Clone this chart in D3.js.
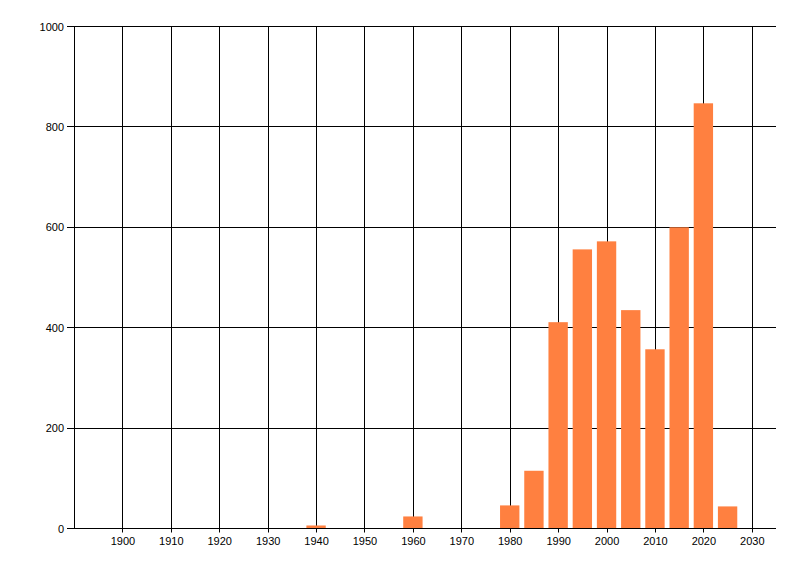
<!DOCTYPE html>
<html>
<head>
<meta charset="utf-8">
<script src="https://cdn.jsdelivr.net/npm/d3@7"></script>
<style>
  html, body { margin: 0; padding: 0; background: #fff; }
  svg text { font-family: "Liberation Sans", "DejaVu Sans", sans-serif; font-size: 11px; fill: #000; }
</style>
</head>
<body>
<svg id="chart" width="800" height="576"></svg>
<script>
// Data
const years = [1940, 1960, 1980, 1985, 1990, 1995, 2000, 2005, 2010, 2015, 2020, 2025];
const counts = [6, 24, 46, 115, 411, 556, 572, 435, 357, 600, 847, 44];
const xTicks = [1900, 1910, 1920, 1930, 1940, 1950, 1960, 1970, 1980, 1990, 2000, 2010, 2020, 2030];
const yTicks = [0, 200, 400, 600, 800, 1000];

(function () {
const svg = d3.select("#chart");
const mLeft = 74, mRight = 776, mTop = 26.5, mBottom = 528.5;

const x = d3.scaleLinear().domain([1890, 2035]).range([mLeft, mRight]);
const y = d3.scaleLinear().domain([0, 1000]).range([mBottom, mTop]);
const barW = x(1894) - x(1890);

// Vertical gridlines
svg.append("g").selectAll("line").data(xTicks).join("line")
  .attr("x1", d => Math.round(x(d)) + 0.5).attr("x2", d => Math.round(x(d)) + 0.5)
  .attr("y1", mTop).attr("y2", mBottom + 4)
  .attr("stroke", "#000").attr("stroke-width", 1);

// Horizontal gridlines
svg.append("g").selectAll("line").data(yTicks).join("line")
  .attr("x1", mLeft - 7).attr("x2", mRight)
  .attr("y1", d => Math.round(y(d) - 0.5) + 0.5).attr("y2", d => Math.round(y(d) - 0.5) + 0.5)
  .attr("stroke", "#000").attr("stroke-width", 1);

// Bars
svg.append("g").selectAll("rect").data(years).join("rect")
  .attr("x", (d) => x(d) - barW / 2)
  .attr("width", barW)
  .attr("y", (d, i) => y(counts[i]))
  .attr("height", (d, i) => y(0) - y(counts[i]))
  .attr("fill", "#FF8040");

// Axis lines
svg.append("line").attr("x1", mLeft + 0.5).attr("x2", mLeft + 0.5).attr("y1", mTop).attr("y2", mBottom)
  .attr("stroke", "#000");
svg.append("line").attr("x1", mLeft - 7).attr("x2", mRight).attr("y1", mBottom).attr("y2", mBottom)
  .attr("stroke", "#000");

// Y labels
svg.append("g").selectAll("text").data(yTicks).join("text")
  .attr("x", 64).attr("y", d => y(d) + 4)
  .attr("text-anchor", "end")
  .text(d => d);

// X labels
svg.append("g").selectAll("text").data(xTicks).join("text")
  .attr("x", d => x(d) + 0.5).attr("y", 545)
  .attr("text-anchor", "middle")
  .text(d => d);
})();
</script>
</body>
</html>
